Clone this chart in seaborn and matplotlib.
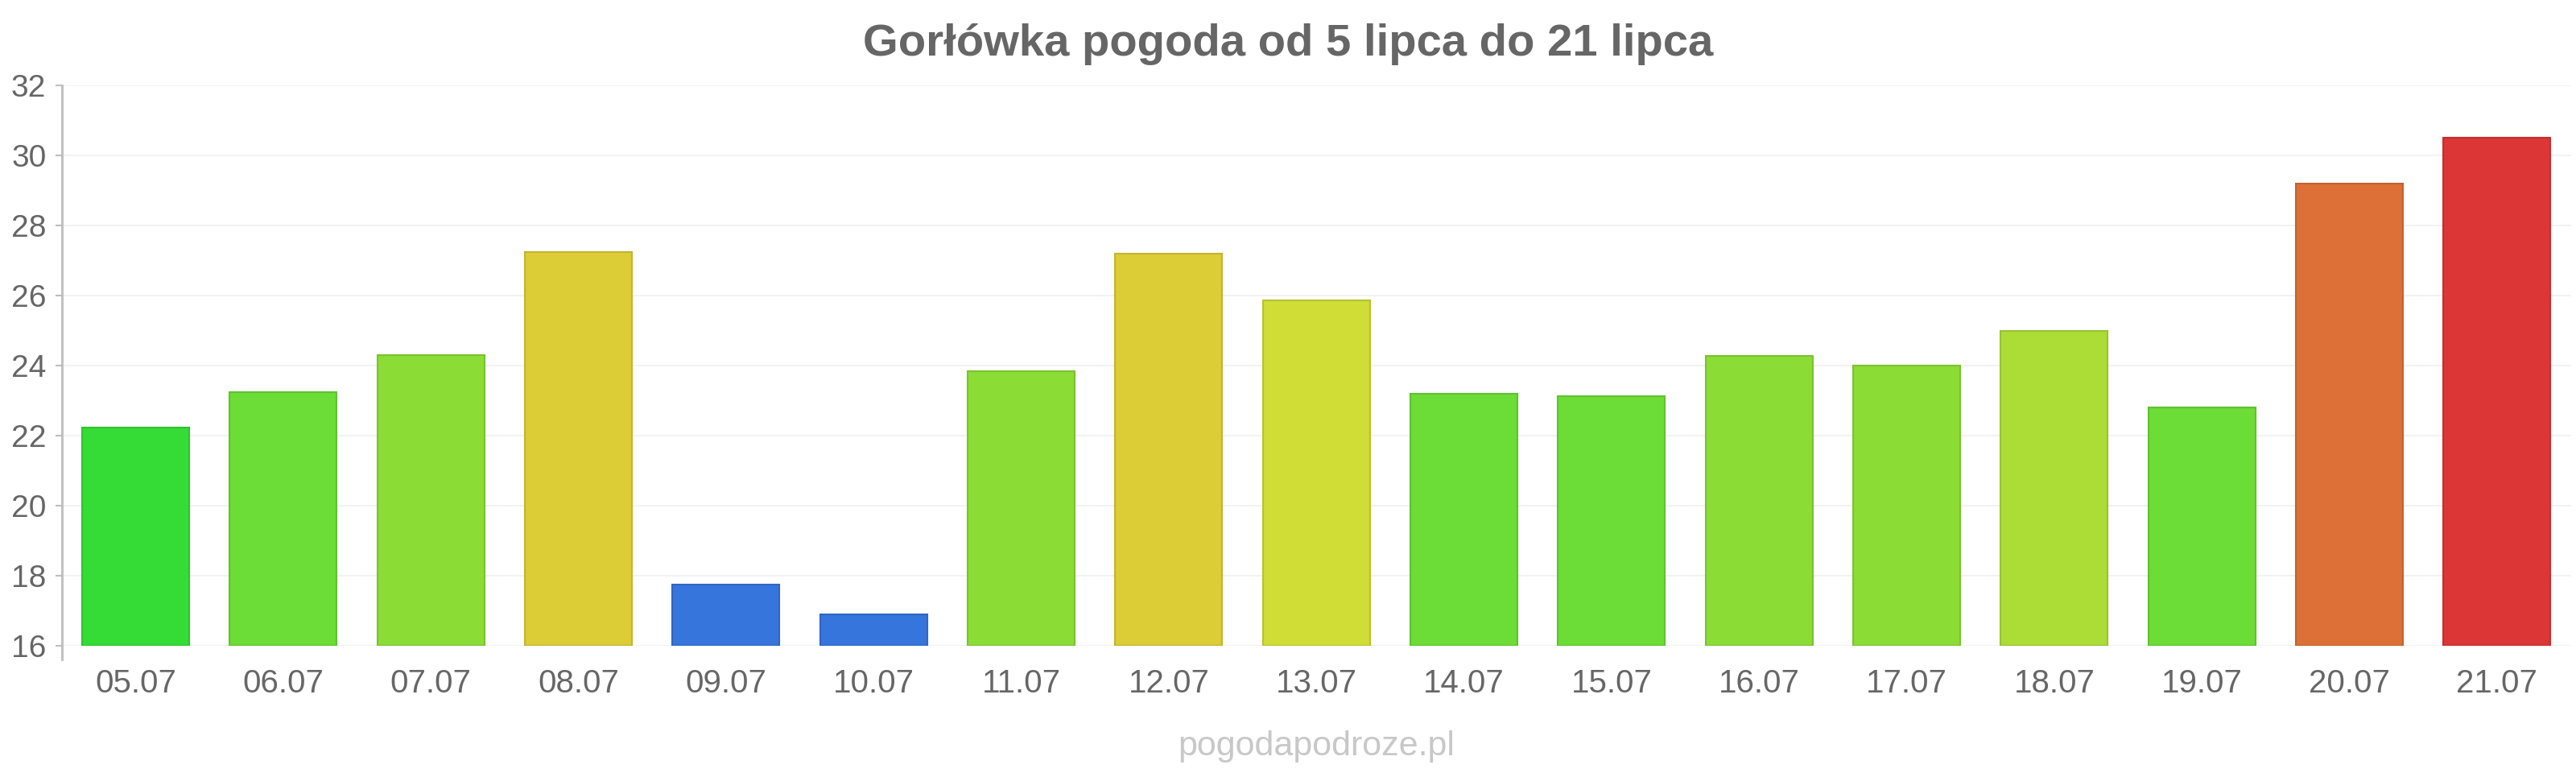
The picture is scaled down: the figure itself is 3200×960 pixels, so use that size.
import matplotlib
matplotlib.use("Agg")
import matplotlib.pyplot as plt
import matplotlib.colors as mcolors
import pandas as pd
import seaborn as sns

# chart data
days = ["05.07", "06.07", "07.07", "08.07", "09.07", "10.07", "11.07", "12.07", "13.07",
        "14.07", "15.07", "16.07", "17.07", "18.07", "19.07", "20.07", "21.07"]
temps = [22.24, 23.25, 24.3, 27.24, 17.75, 16.89, 23.83, 27.2, 25.87,
         23.19, 23.12, 24.28, 24.0, 24.98, 22.81, 29.2, 30.5]
bar_colors = ["#36dc36", "#6cdc36", "#8cdc36", "#dccc36", "#3575dc", "#3575dc", "#8cdc36",
              "#dccc36", "#cfdd36", "#6cdc36", "#6cdc36", "#8cdc36", "#8cdc36", "#acdc36",
              "#6cdc36", "#dd7036", "#dc3636"]
y_ticks = [16, 18, 20, 22, 24, 26, 28, 30, 32]

title = "Gorłówka pogoda od 5 lipca do 21 lipca"
watermark = "pogodapodroze.pl"


def darker(c, f=0.88):
    r, g, b = mcolors.to_rgb(c)
    return (r * f, g * f, b * f)


def plot_weather():
    sns.set_theme(style="white")
    plt.rcParams["font.family"] = ["Liberation Sans", "DejaVu Sans"]

    df = pd.DataFrame({"day": days, "temp": temps})

    fig = plt.figure(figsize=(32, 9.6), dpi=100)
    ax = fig.add_axes([0.024, 0.1646, 0.974, 0.725])

    sns.barplot(data=df, x="day", y="temp", hue="day", palette=bar_colors,
                saturation=1, legend=False, width=0.725, ax=ax, zorder=2)

    for patch, c in zip(ax.patches, bar_colors):
        patch.set_edgecolor(darker(c))
        patch.set_linewidth(1.5)
        # bars start at the axis bottom (16)
        patch.set_y(16)
        patch.set_height(patch.get_height() - 16)

    ax.set_ylim(16, 32)
    ax.set_xlim(-0.5, len(days) - 0.5)
    ax.set_yticks(y_ticks)
    ax.yaxis.grid(True, color="#f2f2f2", linewidth=1.5, zorder=0)
    ax.set_axisbelow(True)

    for side in ["top", "right", "bottom"]:
        ax.spines[side].set_visible(False)
    ax.spines["left"].set_color("#bdbdbd")
    ax.spines["left"].set_linewidth(2)
    ax.spines["left"].set_bounds(15.6, 32)

    ax.tick_params(axis="y", which="major", left=True, length=6, width=1.5,
                   color="#bdbdbd", labelsize=28, labelcolor="#666666", pad=8)
    ax.tick_params(axis="x", bottom=False, labelsize=29, labelcolor="#666666", pad=14)
    ax.set_xlabel("")
    ax.set_ylabel("")

    fig.text(0.5, 0.943, title, ha="center", va="center", fontsize=40.5,
             fontweight="bold", color="#666666")
    fig.text(0.511, 0.034, watermark, ha="center", va="center", fontsize=31,
             color="#c8c8c8")

    fig.savefig("out.png", dpi=100, facecolor="white")


if __name__ == "__main__":
    plot_weather()
